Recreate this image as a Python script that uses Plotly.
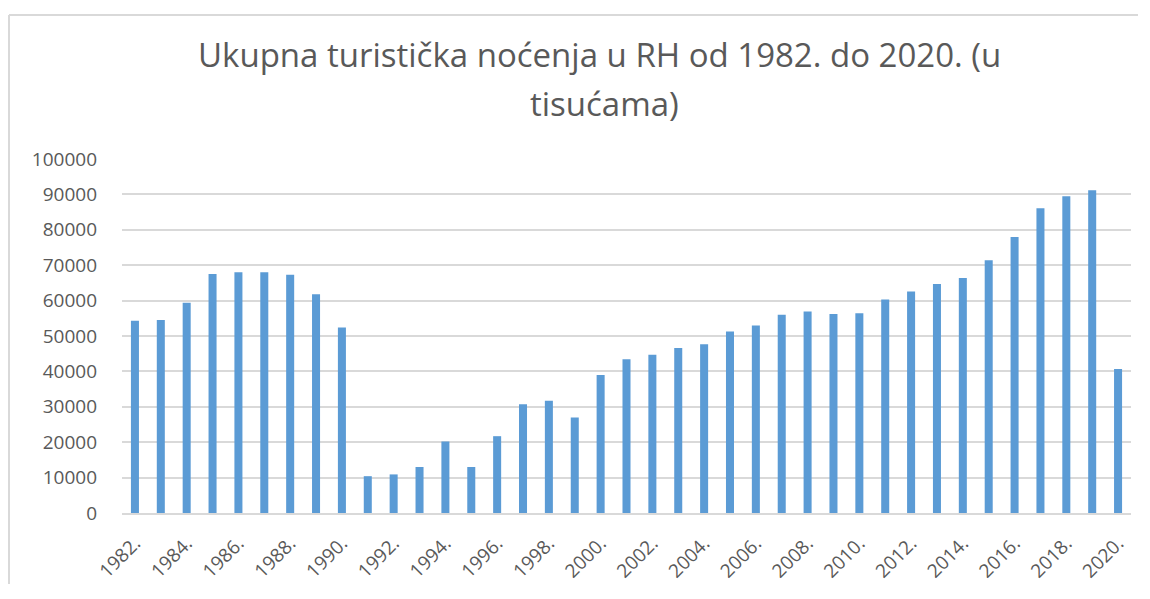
import plotly.graph_objects as go

years = [f"{y}." for y in range(1982, 2021)]
nights = [54300, 54500, 59400, 67500, 68000, 68000, 67300, 61800, 52400,
          10400, 10900, 13000, 20200, 13000, 21700, 30700, 31700, 27000,
          39000, 43400, 44700, 46600, 47700, 51300, 53000, 56000, 56900,
          56200, 56400, 60300, 62600, 64700, 66400, 71400, 78000, 86100,
          89500, 91200, 40700]
tick_labels = years[::2]
y_ticks = list(range(0, 100001, 10000))

title_line1 = "Ukupna turistička noćenja u RH od 1982. do 2020. (u"
title_line2 = "tisućama)"

font_family = "'Open Sans', sans-serif"
grey = "#595959"

fig = go.Figure(go.Bar(
    x=years, y=nights,
    marker=dict(color="#5b9bd5", line=dict(width=0)),
))

border = dict(color="#d9d9d9", width=2)

fig.update_layout(
    width=1130, height=576,
    paper_bgcolor="white", plot_bgcolor="white",
    margin=dict(l=114, r=7, t=151, b=71),
    font=dict(family=font_family, color=grey),
    showlegend=False,
    bargap=0.69,
    xaxis=dict(
        type="category",
        tickmode="array", tickvals=tick_labels, ticktext=tick_labels,
        tickangle=-45, tickfont=dict(size=19, color=grey),
        showgrid=False, showline=True, linecolor="#d9d9d9", linewidth=1.5,
        ticks="", automargin=False, ticklabelstandoff=10,
    ),
    yaxis=dict(
        range=[0, 100000], tickmode="array", tickvals=y_ticks,
        ticktext=[str(v) for v in y_ticks],
        tickfont=dict(size=19, color=grey),
        showgrid=True, gridcolor="#d9d9d9", gridwidth=1.5,
        zeroline=False, showline=False, ticks="",
        ticklabelstandoff=24, automargin=False,
    ),
    annotations=[
        dict(text=title_line1, xref="paper", yref="paper", x=0.473, y=1.294,
             xanchor="center", yanchor="middle", showarrow=False,
             font=dict(family=font_family, size=33, color=grey)),
        dict(text=title_line2, xref="paper", yref="paper", x=0.478, y=1.157,
             xanchor="center", yanchor="middle", showarrow=False,
             font=dict(family=font_family, size=33, color=grey)),
    ],
    shapes=[
        dict(type="line", xref="paper", yref="paper", x0=-0.112, x1=1.05,
             y0=1.4068, y1=1.4068, line=border, layer="below"),
        dict(type="line", xref="paper", yref="paper", x0=-0.112, x1=-0.112,
             y0=-0.28, y1=1.4068, line=border, layer="below"),
    ],
)

fig.write_html("out.html")
